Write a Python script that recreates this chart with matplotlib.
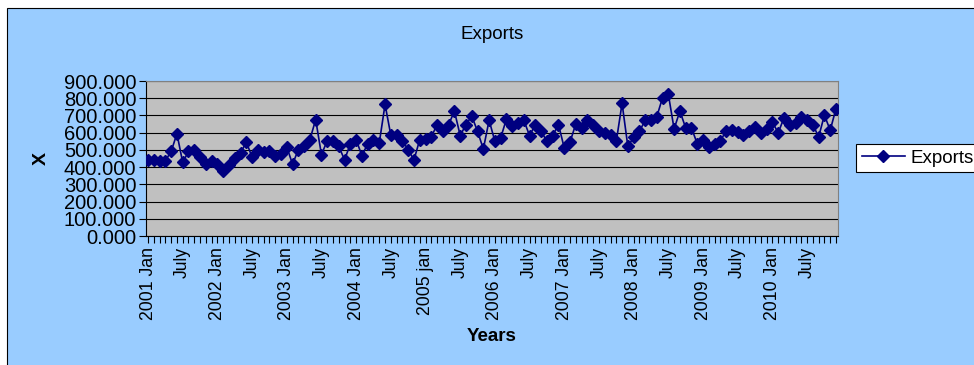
import matplotlib
matplotlib.use("Agg")
import matplotlib.pyplot as plt
from matplotlib.patches import Rectangle
from matplotlib.ticker import FormatStrFormatter, MultipleLocator

plt.rcParams['font.family'] = ['Liberation Sans', 'DejaVu Sans']

# ------------------------------------------------------------
# Data (monthly exports, 2001 Jan - 2010 Dec)
# ------------------------------------------------------------
exports = [
    442, 442, 437, 437, 491, 594, 427, 491, 501, 458, 417, 433,   # 2001
    417, 380, 413, 452, 481, 546, 458, 501, 485, 495, 466, 476,   # 2002
    517, 417, 501, 524, 559, 676, 472, 554, 554, 520, 442, 536,   # 2003
    559, 466, 536, 556, 540, 764, 585, 585, 554, 501, 442, 559,   # 2004
    565, 575, 647, 608, 647, 725, 583, 647, 696, 608, 505, 672,   # 2005
    550, 569, 680, 641, 657, 672, 583, 647, 608, 550, 583, 647,   # 2006
    511, 546, 651, 628, 672, 647, 608, 598, 589, 550, 770, 520,   # 2007
    573, 608, 672, 672, 692, 803, 823, 622, 725, 628, 628, 536,   # 2008
    559, 517, 536, 554, 608, 618, 602, 585, 608, 634, 598, 622,   # 2009
    663, 598, 686, 647, 657, 690, 672, 647, 575, 702, 614, 739,   # 2010
]
years = list(range(2001, 2011))
tick_labels = []
for y in years:
    tick_labels.append(f"{y} jan" if y == 2005 else f"{y} Jan")
    tick_labels.append("July")

months = list(range(len(exports)))

# ------------------------------------------------------------
# Figure
# ------------------------------------------------------------
fig = plt.figure(figsize=(9.74, 3.65), dpi=100, facecolor="white")
bg = Rectangle((7 / 974, -0.1), 1.0, 1.1 - 8 / 365,
               transform=fig.transFigure, facecolor="#99CCFF",
               edgecolor="black", linewidth=0.8, zorder=-10)
fig.add_artist(bg)

ax = fig.add_axes([146 / 974, 1 - 236 / 365, 692 / 974, 155 / 365])
ax.set_facecolor("#C0C0C0")

ax.plot(months, exports, color="#000080", linewidth=1.2, marker="D",
        markersize=5.8, label="Exports", zorder=3)

ax.set_xlim(-0.35, len(exports) - 1 + 0.35)
ax.set_ylim(0, 900)
ax.yaxis.set_major_locator(MultipleLocator(100))
ax.yaxis.set_major_formatter(FormatStrFormatter("%.3f"))
ax.grid(axis="y", color="black", linewidth=0.8)
ax.set_axisbelow(True)

ax.set_xticks(range(0, len(exports), 6))
ax.set_xticklabels(tick_labels, rotation=90, fontsize=12.7)
ax.set_xticks(months, minor=True)
ax.tick_params(axis="x", which="both", direction="out", length=5, width=0.8, pad=3)
ax.tick_params(axis="y", direction="out", length=5, width=0.8, labelsize=14.5, pad=2)

for side in ("top", "right"):
    ax.spines[side].set_color("#808080")
for side in ("left", "bottom"):
    ax.spines[side].set_color("black")
    ax.spines[side].set_linewidth(0.8)

ax.set_title("Exports", fontsize=13.5, pad=30)
ax.set_xlabel("Years", fontsize=13.5, fontweight="bold", labelpad=6)
ax.set_ylabel("X", fontsize=14, fontweight="bold", labelpad=10)

leg = ax.legend(loc="upper left", bbox_to_anchor=(856 / 974, 1 - 144 / 365),
                bbox_transform=fig.transFigure, fontsize=13.5, frameon=True,
                fancybox=False, framealpha=1, edgecolor="black",
                handlelength=2.3, borderpad=0.3, handletextpad=0.3,
                borderaxespad=0)
leg.get_frame().set_linewidth(0.8)

fig.savefig("out.png", dpi=100, facecolor="white")
